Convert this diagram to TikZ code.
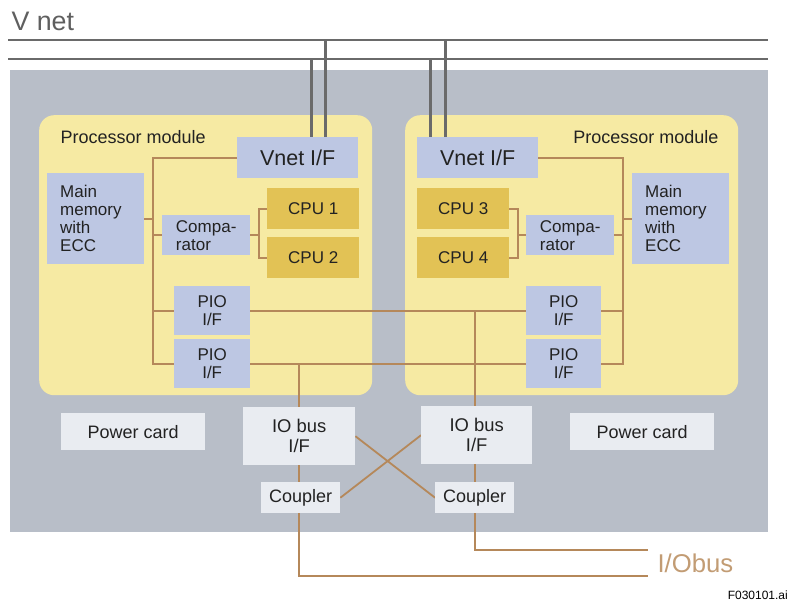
\documentclass[tikz,border=0pt]{standalone}
\usepackage{fontspec}
\setmainfont{Liberation Sans}
\pgfdeclarelayer{bg}
\pgfdeclarelayer{wires}
\pgfsetlayers{bg,wires,main}
\definecolor{bggray}{HTML}{B8BEC8}
\definecolor{modyellow}{HTML}{F6EAA3}
\definecolor{boxblue}{HTML}{BDC7E3}
\definecolor{cpugold}{HTML}{E2C255}
\definecolor{lightbox}{HTML}{E9ECF1}
\definecolor{wirecol}{HTML}{B5885A}
\definecolor{vnetcol}{HTML}{6A6A6A}
\definecolor{txt}{HTML}{222222}
\definecolor{iobustxt}{HTML}{C29C74}
\begin{document}
\begin{tikzpicture}[x=1pt,y=-1pt,
  every node/.style={text=txt, font=\fontsize{17}{18}\selectfont},
  blk/.style={fill=boxblue, inner sep=0pt, anchor=north west, align=center},
  cpubox/.style={fill=cpugold, inner sep=0pt, anchor=north west, align=center, minimum width=92pt, minimum height=41pt},
  litebox/.style={fill=lightbox, inner sep=0pt, anchor=north west, align=center, font=\fontsize{18}{20}\selectfont},
  module/.style={fill=modyellow, rounded corners=15pt, inner sep=0pt, anchor=north west, minimum width=333pt, minimum height=280pt},
  vnetif/.style={blk, minimum width=121pt, minimum height=41pt, font=\fontsize{21.5}{22}\selectfont},
  memory/.style={blk, align=left, inner xsep=13pt, text width=71pt, minimum height=91pt},
  compar/.style={blk, align=left, minimum width=88pt, minimum height=40pt},
  piobox/.style={blk, minimum width=76pt, minimum height=49pt},
  iobox/.style={litebox, minimum width=112pt, minimum height=58pt, font=\fontsize{18.4}{20}\selectfont},
  couplerbox/.style={litebox, minimum width=79pt, minimum height=31pt},
  powerbox/.style={litebox, minimum width=144pt, minimum height=37pt},
  wire/.style={draw=wirecol, line width=1.8pt},
  vnetwire/.style={draw=vnetcol, line width=2.6pt},
]
\useasboundingbox (0,0) rectangle (790,603);

\begin{pgfonlayer}{bg}
  \fill[bggray] (10,70) rectangle (768,532);
  \node[module] (modL) at (39,115) {};
  \node[module] (modR) at (405,115) {};
\end{pgfonlayer}

% texts
\node[anchor=west, font=\fontsize{26.8}{28}\selectfont, text=vnetcol!90!black] (vnettitle) at (8,21) {V net};
\node[anchor=west, font=\fontsize{18}{20}\selectfont] (pmL) at (57,137) {Processor module};
\node[anchor=east, font=\fontsize{18}{20}\selectfont] (pmR) at (722,137) {Processor module};
\node[anchor=west, font=\fontsize{25.7}{27}\selectfont, text=iobustxt] (iobus) at (654,563) {I/Obus};
\node[anchor=east, inner sep=0pt, font=\fontsize{12}{14}\selectfont, text=black] (fig) at (788,595) {F030101.ai};

% boxes
\node[vnetif] (vnetL) at (237,137) {Vnet I/F};
\node[vnetif] (vnetR) at (417,137) {Vnet I/F};
\node[memory] (memL) at (47,173) {Main\\memory\\with\\ECC};
\node[memory] (memR) at (632,173) {Main\\memory\\with\\ECC};
\node[compar] (cmpL) at (162,215) {Compa-\\rator};
\node[compar] (cmpR) at (526,215) {Compa-\\rator};
\node[cpubox] (cpu1) at (267,188) {CPU 1};
\node[cpubox] (cpu2) at (267,237) {CPU 2};
\node[cpubox] (cpu3) at (417,188) {CPU 3};
\node[cpubox] (cpu4) at (417,237) {CPU 4};
\node[piobox] (pioL1) at (174,286) {PIO\\I/F};
\node[piobox] (pioL2) at (174,339) {PIO\\I/F};
\node[piobox, minimum width=75pt] (pioR1) at (526,286) {PIO\\I/F};
\node[piobox, minimum width=75pt] (pioR2) at (526,339) {PIO\\I/F};
\node[iobox] (ioL) at (243,407) {IO bus\\I/F};
\node[iobox, minimum width=111pt] (ioR) at (421,406) {IO bus\\I/F};
\node[couplerbox] (cplL) at (261,482) {Coupler};
\node[couplerbox] (cplR) at (435,482) {Coupler};
\node[powerbox] (pwrL) at (61,413) {Power card};
\node[powerbox] (pwrR) at (570,413) {Power card};

\begin{pgfonlayer}{wires}
  % left module bus
  \coordinate (bl) at (153,0);
  \coordinate (kl) at (259,0);
  \draw[wire] (vnetL.west) -| (bl |- pioL2.west) -- (pioL2.west);
  \draw[wire] (memL.east) -- (memL.east -| bl);
  \draw[wire] (cmpL.west) -- (cmpL.west -| bl);
  \draw[wire] (pioL1.west) -- (pioL1.west -| bl);
  \draw[wire] (cpu1.west) -- (cpu1.west -| kl) -- (cpu2.west -| kl) -- (cpu2.west);
  \draw[wire] (cmpL.east) -- (cmpL.east -| kl);
  % right module bus
  \coordinate (br) at (623,0);
  \coordinate (kr) at (518,0);
  \draw[wire] (vnetR.east) -| (br |- pioR2.east) -- (pioR2.east);
  \draw[wire] (memR.west) -- (memR.west -| br);
  \draw[wire] (cmpR.east) -- (cmpR.east -| br);
  \draw[wire] (pioR1.east) -- (pioR1.east -| br);
  \draw[wire] (cpu3.east) -- (cpu3.east -| kr) -- (cpu4.east -| kr) -- (cpu4.east);
  \draw[wire] (cmpR.west) -- (cmpR.west -| kr);
  % links between modules
  \draw[wire] (pioL1.east) -- (pioR1.west);
  \draw[wire] (pioL2.east) -- (pioR2.west);
  % IO bus
  \coordinate (endL) at (648,576);
  \coordinate (endR) at (648,550);
  \draw[wire] (ioL |- pioL2.east) -- (ioL |- endL) -- (endL);
  \draw[wire] (cplR |- pioR1.west) -- (cplR |- endR) -- (endR);
  \draw[wire] (ioL.east) -- (cplR.west);
  \draw[wire] (cplL.east) -- (ioR.west);
  % V net
  \coordinate (v1a) at (8,40);
  \coordinate (v1b) at (768,40);
  \coordinate (v2a) at (8,59);
  \coordinate (v2b) at (768,59);
  \draw[vnetwire] (v1a) -- (v1b);
  \draw[vnetwire] (v2a) -- (v2b);
  \draw[vnetwire] ([xshift=13.5pt]vnetL.north) -- ([xshift=13.5pt]vnetL.north |- v2a);
  \draw[vnetwire] ([xshift=27.5pt]vnetL.north) -- ([xshift=27.5pt]vnetL.north |- v1a);
  \draw[vnetwire] ([xshift=-47.5pt]vnetR.north) -- ([xshift=-47.5pt]vnetR.north |- v2a);
  \draw[vnetwire] ([xshift=-32.5pt]vnetR.north) -- ([xshift=-32.5pt]vnetR.north |- v1a);
\end{pgfonlayer}
\end{tikzpicture}
\end{document}
